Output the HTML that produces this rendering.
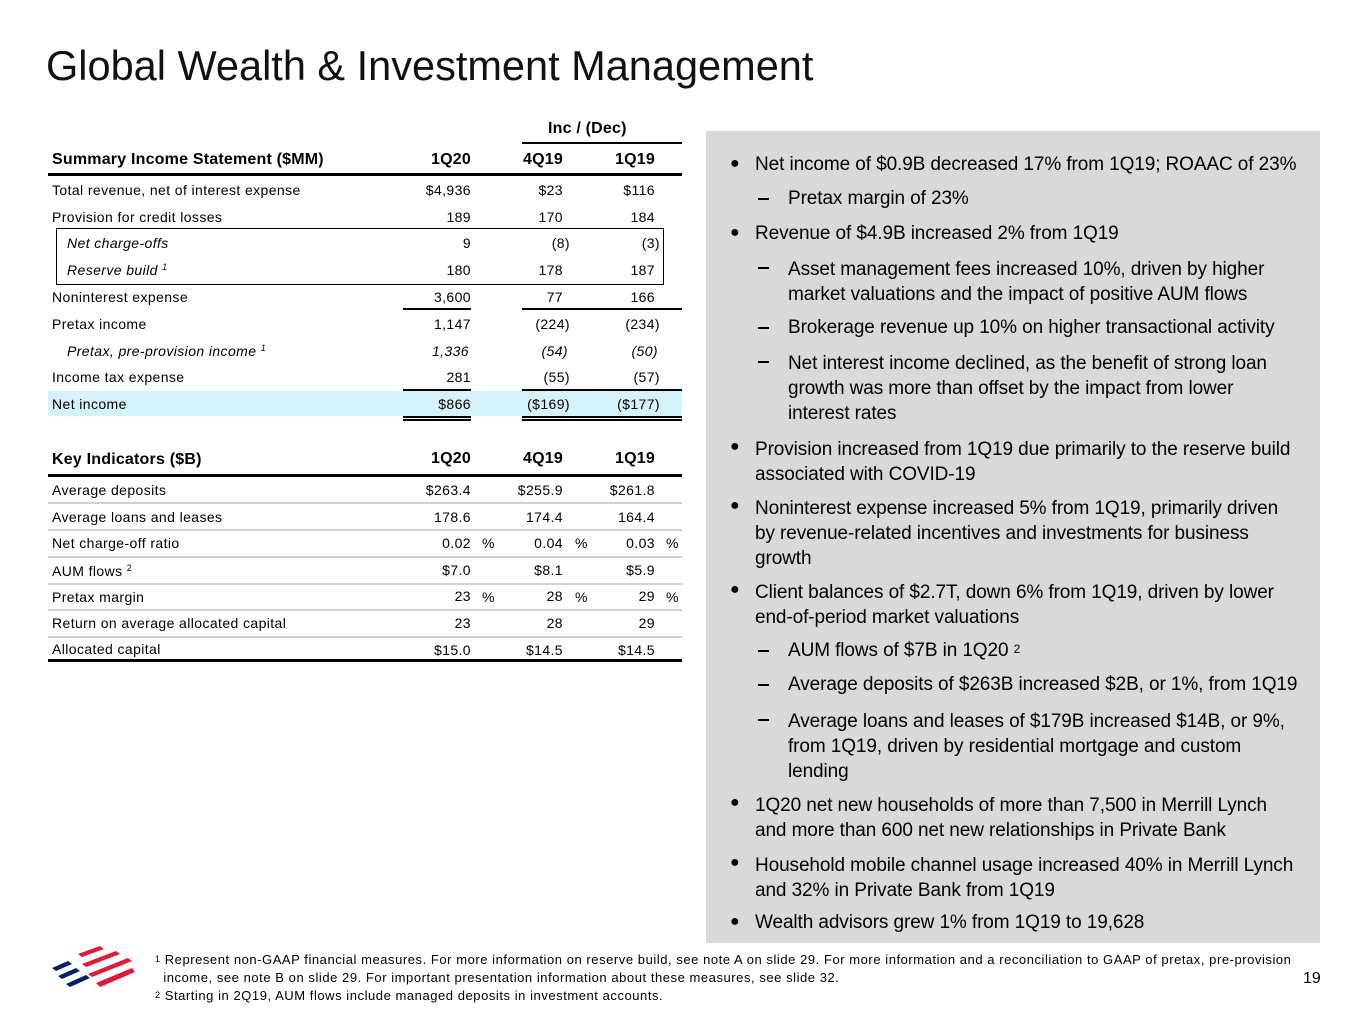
<!DOCTYPE html>
<html><head><meta charset="utf-8"><style>
*{margin:0;padding:0;box-sizing:border-box}
body{width:1365px;height:1024px;background:#fff;position:relative;overflow:hidden;font-family:"Liberation Sans",sans-serif;color:#000}
.a{position:absolute;white-space:nowrap}
.t{font-size:14px;line-height:16px;letter-spacing:0.4px}
.r{text-align:right}
.b{font-weight:bold;font-size:16px;letter-spacing:0.2px}
.ln{position:absolute;background:#000}
.g{position:absolute;background:#d0d0d0;height:2px;left:48px;width:634px}
.p{font-size:19px;line-height:22px;letter-spacing:-0.1px}
.bul{font-size:16px}
.d{position:absolute;left:758px;width:11px;height:2px;background:#000}
sup{font-size:9px;vertical-align:top;position:relative;top:-3px}
</style></head><body>
<div class="a" style="left:46px;top:42px;font-size:41.5px;color:#111">Global Wealth &amp; Investment Management</div>

<div style="position:absolute;left:706px;top:131px;width:614px;height:812px;background:#d9d9d9"></div>

<div class="a b" style="left:548px;top:120px">Inc / (Dec)</div>
<div class="ln" style="left:522px;top:142px;width:160px;height:2px"></div>
<div class="a b" style="left:52px;top:151px">Summary Income Statement ($MM)</div>
<div class="a b r" style="left:400px;width:71px;top:151px">1Q20</div>
<div class="a b r" style="left:500px;width:63px;top:151px">4Q19</div>
<div class="a b r" style="left:590px;width:65px;top:151px">1Q19</div>
<div class="ln" style="left:48px;top:173px;width:634px;height:3px"></div>

<div style="position:absolute;left:56px;top:228px;width:608px;height:57px;border:1.5px solid #000"></div>
<div style="position:absolute;left:48px;top:391px;width:634px;height:25px;background:#d4f3fa"></div>

<div class="a t" style="left:52px;top:182px">Total revenue, net of interest expense</div>
<div class="a t" style="left:52px;top:209px">Provision for credit losses</div>
<div class="a t" style="left:67px;top:235px;font-style:italic">Net charge-offs</div>
<div class="a t" style="left:67px;top:262px;font-style:italic">Reserve build <sup>1</sup></div>
<div class="a t" style="left:52px;top:289px">Noninterest expense</div>
<div class="a t" style="left:52px;top:316px">Pretax income</div>
<div class="a t" style="left:67px;top:343px;font-style:italic">Pretax, pre-provision income <sup>1</sup></div>
<div class="a t" style="left:52px;top:369px">Income tax expense</div>
<div class="a t" style="left:52px;top:396px">Net income</div>

<div class="a t r" style="left:380px;width:91px;top:182px">$4,936</div>
<div class="a t r" style="left:380px;width:91px;top:209px">189</div>
<div class="a t r" style="left:380px;width:91px;top:235px">9</div>
<div class="a t r" style="left:380px;width:91px;top:262px">180</div>
<div class="a t r" style="left:380px;width:91px;top:289px">3,600</div>
<div class="a t r" style="left:380px;width:91px;top:316px">1,147</div>
<div class="a t r" style="left:380px;width:89px;top:343px;font-style:italic">1,336</div>
<div class="a t r" style="left:380px;width:91px;top:369px">281</div>
<div class="a t r" style="left:380px;width:91px;top:396px">$866</div>

<div class="a t r" style="left:480px;width:83px;top:182px">$23</div>
<div class="a t r" style="left:480px;width:83px;top:209px">170</div>
<div class="a t r" style="left:480px;width:90px;top:235px">(8)</div>
<div class="a t r" style="left:480px;width:83px;top:262px">178</div>
<div class="a t r" style="left:480px;width:83px;top:289px">77</div>
<div class="a t r" style="left:480px;width:90px;top:316px">(224)</div>
<div class="a t r" style="left:480px;width:88px;top:343px;font-style:italic">(54)</div>
<div class="a t r" style="left:480px;width:90px;top:369px">(55)</div>
<div class="a t r" style="left:480px;width:90px;top:396px">($169)</div>

<div class="a t r" style="left:580px;width:75px;top:182px">$116</div>
<div class="a t r" style="left:580px;width:75px;top:209px">184</div>
<div class="a t r" style="left:580px;width:80px;top:235px">(3)</div>
<div class="a t r" style="left:580px;width:75px;top:262px">187</div>
<div class="a t r" style="left:580px;width:75px;top:289px">166</div>
<div class="a t r" style="left:580px;width:80px;top:316px">(234)</div>
<div class="a t r" style="left:580px;width:78px;top:343px;font-style:italic">(50)</div>
<div class="a t r" style="left:580px;width:80px;top:369px">(57)</div>
<div class="a t r" style="left:580px;width:80px;top:396px">($177)</div>

<div class="ln" style="left:403px;top:308px;width:68px;height:2px"></div>
<div class="ln" style="left:522px;top:308px;width:160px;height:2px"></div>
<div class="ln" style="left:403px;top:389px;width:68px;height:2px"></div>
<div class="ln" style="left:522px;top:389px;width:160px;height:2px"></div>
<div class="ln" style="left:403px;top:416px;width:68px;height:1.5px"></div>
<div class="ln" style="left:403px;top:419px;width:68px;height:1.5px"></div>
<div class="ln" style="left:522px;top:416px;width:160px;height:1.5px"></div>
<div class="ln" style="left:522px;top:419px;width:160px;height:1.5px"></div>

<div class="a b" style="left:52px;top:451px">Key Indicators ($B)</div>
<div class="a b r" style="left:400px;width:71px;top:450px">1Q20</div>
<div class="a b r" style="left:500px;width:63px;top:450px">4Q19</div>
<div class="a b r" style="left:590px;width:65px;top:450px">1Q19</div>
<div class="ln" style="left:48px;top:474px;width:634px;height:3px"></div>
<div class="g" style="top:502px"></div>
<div class="g" style="top:529px"></div>
<div class="g" style="top:556px"></div>
<div class="g" style="top:583px"></div>
<div class="g" style="top:609px"></div>
<div class="g" style="top:636px"></div>
<div class="ln" style="left:48px;top:659px;width:634px;height:2.5px"></div>

<div class="a t" style="left:52px;top:482px">Average deposits</div>
<div class="a t" style="left:52px;top:509px">Average loans and leases</div>
<div class="a t" style="left:52px;top:535px">Net charge-off ratio</div>
<div class="a t" style="left:52px;top:563px">AUM flows <sup>2</sup></div>
<div class="a t" style="left:52px;top:589px">Pretax margin</div>
<div class="a t" style="left:52px;top:615px">Return on average allocated capital</div>
<div class="a t" style="left:52px;top:641px">Allocated capital</div>

<div class="a t r" style="left:380px;width:91px;top:477px;line-height:26.6px">$263.4<br>178.6<br>0.02<br>$7.0<br>23<br>23<br>$15.0</div>
<div class="a t r" style="left:480px;width:83px;top:477px;line-height:26.6px">$255.9<br>174.4<br>0.04<br>$8.1<br>28<br>28<br>$14.5</div>
<div class="a t r" style="left:580px;width:75px;top:477px;line-height:26.6px">$261.8<br>164.4<br>0.03<br>$5.9<br>29<br>29<br>$14.5</div>
<div class="a t" style="left:482px;top:535px">%</div>
<div class="a t" style="left:575px;top:535px">%</div>
<div class="a t" style="left:666px;top:535px">%</div>
<div class="a t" style="left:482px;top:589px">%</div>
<div class="a t" style="left:575px;top:589px">%</div>
<div class="a t" style="left:666px;top:589px">%</div>

<div class="a p bul" style="left:730px;top:153px">●</div>
<div class="a p" style="left:755px;top:154px">Net income of $0.9B decreased 17% from 1Q19; ROAAC of 23%</div>
<div class="d" style="top:198px"></div>
<div class="a p" style="left:788px;top:188px">Pretax margin of 23%</div>
<div class="a p bul" style="left:730px;top:222px">●</div>
<div class="a p" style="left:755px;top:223px">Revenue of $4.9B increased 2% from 1Q19</div>
<div class="d" style="top:267px"></div>
<div class="a p" style="left:788px;top:257px;line-height:25px">Asset management fees increased 10%, driven by higher<br>market valuations and the impact of positive AUM flows</div>
<div class="d" style="top:327px"></div>
<div class="a p" style="left:788px;top:317px">Brokerage revenue up 10% on higher transactional activity</div>
<div class="d" style="top:361px"></div>
<div class="a p" style="left:788px;top:351px;line-height:25px">Net interest income declined, as the benefit of strong loan<br>growth was more than offset by the impact from lower<br>interest rates</div>
<div class="a p bul" style="left:730px;top:436px">●</div>
<div class="a p" style="left:755px;top:437px;line-height:25px">Provision increased from 1Q19 due primarily to the reserve build<br>associated with COVID-19</div>
<div class="a p bul" style="left:730px;top:495px">●</div>
<div class="a p" style="left:755px;top:496px;line-height:25px">Noninterest expense increased 5% from 1Q19, primarily driven<br>by revenue-related incentives and investments for business<br>growth</div>
<div class="a p bul" style="left:730px;top:579px">●</div>
<div class="a p" style="left:755px;top:580px;line-height:25px">Client balances of $2.7T, down 6% from 1Q19, driven by lower<br>end-of-period market valuations</div>
<div class="d" style="top:650px"></div>
<div class="a p" style="left:788px;top:640px">AUM flows of $7B in 1Q20 <sup style="font-size:12px;top:-2px">2</sup></div>
<div class="d" style="top:684px"></div>
<div class="a p" style="left:788px;top:674px">Average deposits of $263B increased $2B, or 1%, from 1Q19</div>
<div class="d" style="top:719px"></div>
<div class="a p" style="left:788px;top:709px;line-height:25px">Average loans and leases of $179B increased $14B, or 9%,<br>from 1Q19, driven by residential mortgage and custom<br>lending</div>
<div class="a p bul" style="left:730px;top:792px">●</div>
<div class="a p" style="left:755px;top:793px;line-height:25px">1Q20 net new households of more than 7,500 in Merrill Lynch<br>and more than 600 net new relationships in Private Bank</div>
<div class="a p bul" style="left:730px;top:852px">●</div>
<div class="a p" style="left:755px;top:853px;line-height:25px">Household mobile channel usage increased 40% in Merrill Lynch<br>and 32% in Private Bank from 1Q19</div>
<div class="a p bul" style="left:730px;top:911px">●</div>
<div class="a p" style="left:755px;top:912px">Wealth advisors grew 1% from 1Q19 to 19,628</div>

<svg style="position:absolute;left:46px;top:944px" width="92" height="52" viewBox="0 0 92 52">
<polygon points="32,10 54,2 58,5 36,13" fill="#e31837"/>
<polygon points="36,20 70,7 74,10 40,23" fill="#e31837"/>
<polygon points="42,30 82,14 86,17 46,33" fill="#e31837"/>
<polygon points="50,39 86,24 89,28 54,43" fill="#e31837"/>
<polygon points="6,24 22,17 26,20 10,27" fill="#012169"/>
<polygon points="12,32 30,24 34,27 16,35" fill="#012169"/>
<polygon points="20,40 40,31 44,34 24,43" fill="#012169"/>
</svg>

<div class="a" style="left:155px;top:951px;font-size:13px;line-height:18px;letter-spacing:0.55px"><sup style="font-size:9px;top:-1px">1</sup> Represent non-GAAP financial measures. For more information on reserve build, see note A on slide 29. For more information and a reconciliation to GAAP of pretax, pre-provision<br>&nbsp;&nbsp;income, see note B on slide 29. For important presentation information about these measures, see slide 32.<br><sup style="font-size:9px;top:-1px">2</sup> Starting in 2Q19, AUM flows include managed deposits in investment accounts.</div>
<div class="a" style="left:1303px;top:970px;font-size:16px">19</div>
</body></html>
